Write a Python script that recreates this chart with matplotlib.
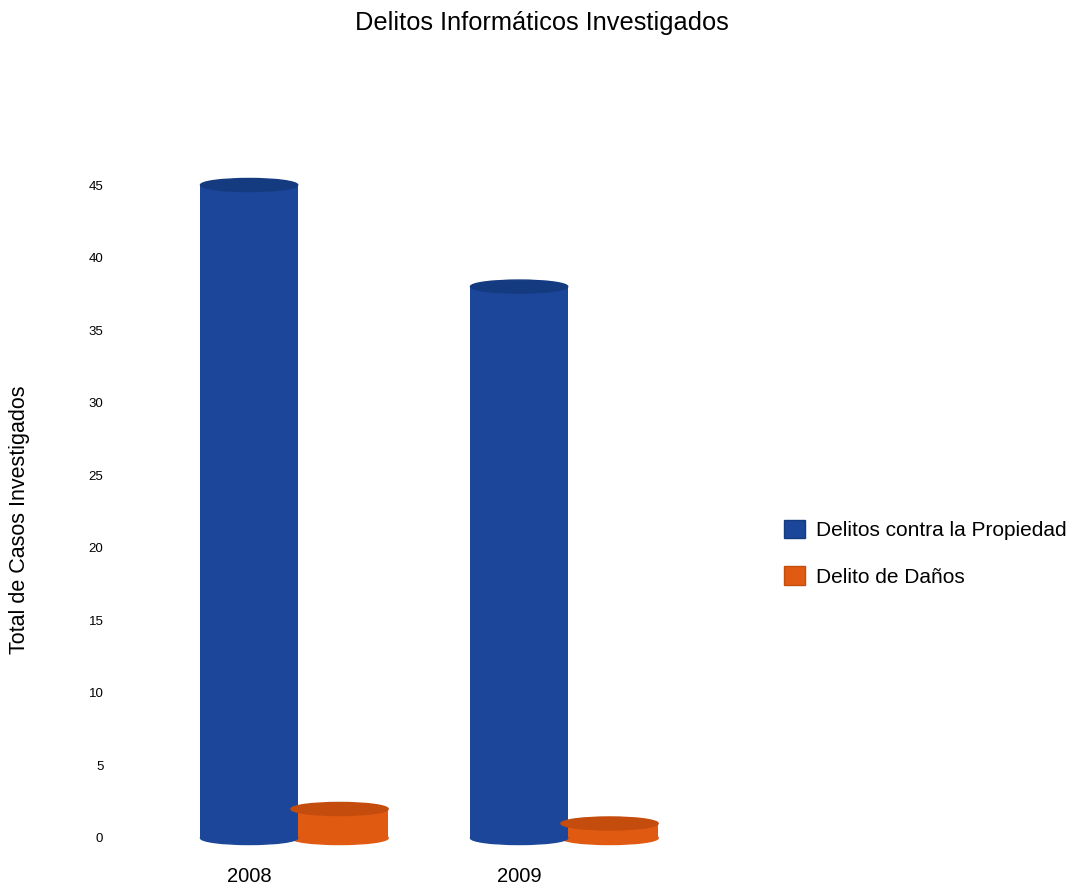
import numpy as np
import matplotlib
matplotlib.use("Agg")
import matplotlib.pyplot as plt
from matplotlib.patches import Ellipse, Patch

plt.rcParams['font.family'] = ['Liberation Sans', 'DejaVu Sans']

years = ["2008", "2009"]
propiedad = [45, 38]
danos = [2, 1]
series_names = ["Delitos contra la Propiedad", "Delito de Daños"]

blue = "#1b4699"
blue_top = "#143a80"
orange = "#e05a12"
orange_top = "#c44c0c"

fig = plt.figure(figsize=(10.77, 8.9), dpi=100)
ax = fig.add_axes([120 / 1077, 52 / 890, 600 / 1077, 653 / 890])

x = np.arange(len(years))
width = 0.36
offset = 0.335
cap = 0.9  # ellipse height in data units

def cylinders(xs, vals, color, top_color):
    ax.bar(xs, vals, width=width, color=color, zorder=2)
    for xi, v in zip(xs, vals):
        ax.add_patch(Ellipse((xi, 0), width, cap, color=color, zorder=2, clip_on=False))
        ax.add_patch(Ellipse((xi, v), width, cap, color=top_color, zorder=3, clip_on=False))

# orange drawn first (sits behind, to the right)
cylinders(x + offset, danos, orange, orange_top)
cylinders(x, propiedad, blue, blue_top)

ax.set_xlim(-0.478, 1.744)
ax.set_ylim(0, 45)
ax.set_yticks(range(0, 46, 5))
ax.set_xticks(x)
ax.set_xticklabels(years, fontsize=14.5)
ax.tick_params(axis="y", length=0, labelsize=9.5, pad=12)
ax.tick_params(axis="x", length=0, pad=21)
for s in ax.spines.values():
    s.set_visible(False)

fig.text(20 / 1077, 1 - 520 / 890, "Total de Casos Investigados", rotation=90,
         va="center", ha="center", fontsize=15.5)
fig.text(542 / 1077, 1 - 23 / 890, "Delitos Informáticos Investigados",
         ha="center", va="center", fontsize=18.3)

handles = [Patch(facecolor=blue, edgecolor=blue_top), Patch(facecolor=orange, edgecolor=orange_top)]
fig.legend(handles, series_names, loc="upper left", bbox_to_anchor=(765 / 1077, 1 - 501 / 890),
           frameon=False, fontsize=15, handlelength=1.0, handleheight=1.0,
           labelspacing=1.25, handletextpad=0.55)

fig.savefig("out.png", dpi=100)
